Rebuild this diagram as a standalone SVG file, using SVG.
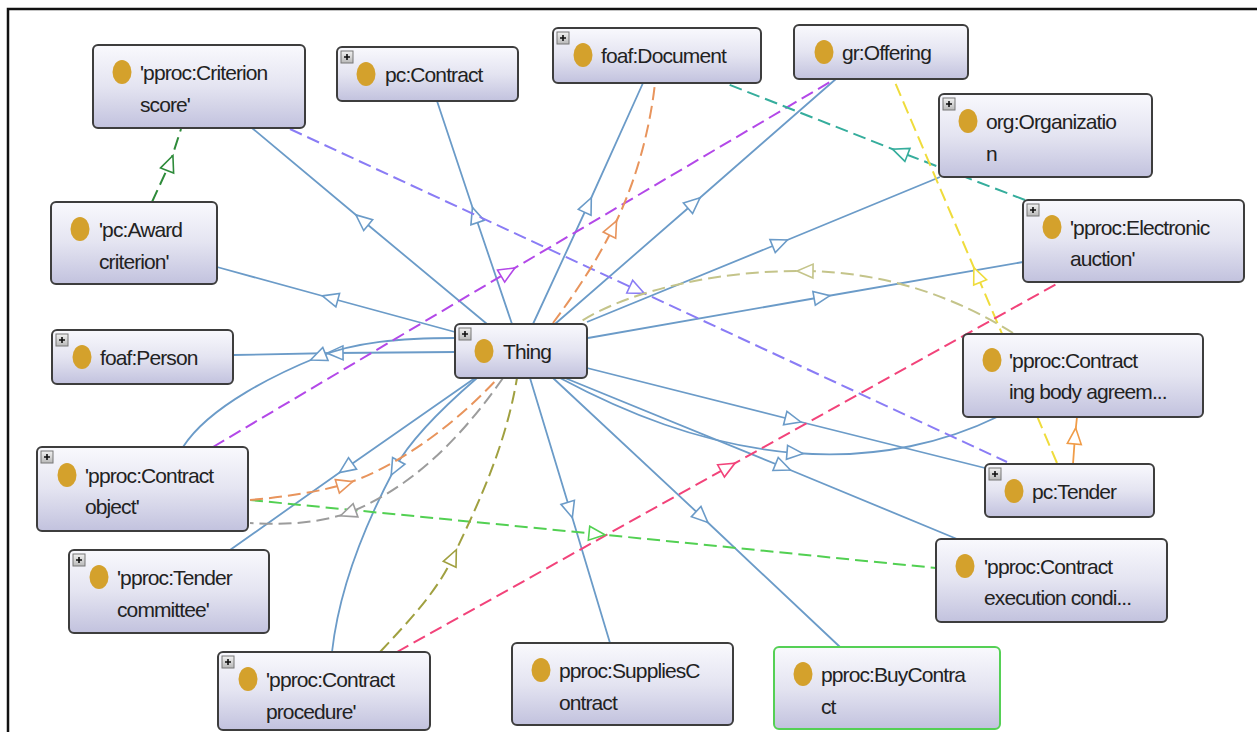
<svg xmlns="http://www.w3.org/2000/svg" width="1257" height="732" viewBox="0 0 1257 732">
  <defs>
    <linearGradient id="nodeFill" x1="0" y1="0" x2="0" y2="1">
      <stop offset="0" stop-color="#f9f9fd"/>
      <stop offset="0.5" stop-color="#e4e4f1"/>
      <stop offset="1" stop-color="#c2c2de"/>
    </linearGradient>
    <linearGradient id="plusFill" x1="0" y1="0" x2="0" y2="1">
      <stop offset="0" stop-color="#f2f2f2"/>
      <stop offset="1" stop-color="#b8b8b8"/>
    </linearGradient>
    <!-- open triangle heads, centred on the mid vertex of each connector -->
    <marker id="a-blue" markerUnits="userSpaceOnUse" markerWidth="20" markerHeight="16" refX="8" refY="7" orient="auto" overflow="visible"><path d="M0,0 L16,7 L0,14 Z" fill="#fff" stroke="#6b9bc8" stroke-width="1.6"/></marker>
    <marker id="a-purple" markerUnits="userSpaceOnUse" markerWidth="20" markerHeight="16" refX="8" refY="7" orient="auto" overflow="visible"><path d="M0,0 L16,7 L0,14 Z" fill="#fff" stroke="#b348e8" stroke-width="1.6"/></marker>
    <marker id="a-violet" markerUnits="userSpaceOnUse" markerWidth="20" markerHeight="16" refX="8" refY="7" orient="auto" overflow="visible"><path d="M0,0 L16,7 L0,14 Z" fill="#fff" stroke="#8a7cf5" stroke-width="1.6"/></marker>
    <marker id="a-orange" markerUnits="userSpaceOnUse" markerWidth="20" markerHeight="16" refX="8" refY="7" orient="auto" overflow="visible"><path d="M0,0 L16,7 L0,14 Z" fill="#fff" stroke="#e8945c" stroke-width="1.6"/></marker>
    <marker id="a-teal" markerUnits="userSpaceOnUse" markerWidth="20" markerHeight="16" refX="8" refY="7" orient="auto" overflow="visible"><path d="M0,0 L16,7 L0,14 Z" fill="#fff" stroke="#35ad9c" stroke-width="1.6"/></marker>
    <marker id="a-yellow" markerUnits="userSpaceOnUse" markerWidth="20" markerHeight="16" refX="8" refY="7" orient="auto" overflow="visible"><path d="M0,0 L16,7 L0,14 Z" fill="#fff" stroke="#efdc3c" stroke-width="1.6"/></marker>
    <marker id="a-khaki" markerUnits="userSpaceOnUse" markerWidth="20" markerHeight="16" refX="8" refY="7" orient="auto" overflow="visible"><path d="M0,0 L16,7 L0,14 Z" fill="#fff" stroke="#c4c48a" stroke-width="1.6"/></marker>
    <marker id="a-pink" markerUnits="userSpaceOnUse" markerWidth="20" markerHeight="16" refX="8" refY="7" orient="auto" overflow="visible"><path d="M0,0 L16,7 L0,14 Z" fill="#fff" stroke="#f2437a" stroke-width="1.6"/></marker>
    <marker id="a-green" markerUnits="userSpaceOnUse" markerWidth="20" markerHeight="16" refX="8" refY="7" orient="auto" overflow="visible"><path d="M0,0 L16,7 L0,14 Z" fill="#fff" stroke="#52d052" stroke-width="1.6"/></marker>
    <marker id="a-dkgreen" markerUnits="userSpaceOnUse" markerWidth="20" markerHeight="16" refX="8" refY="7" orient="auto" overflow="visible"><path d="M0,0 L16,7 L0,14 Z" fill="#fff" stroke="#2e8b3a" stroke-width="1.6"/></marker>
    <marker id="a-gray" markerUnits="userSpaceOnUse" markerWidth="20" markerHeight="16" refX="8" refY="7" orient="auto" overflow="visible"><path d="M0,0 L16,7 L0,14 Z" fill="#fff" stroke="#9c9c9c" stroke-width="1.6"/></marker>
    <marker id="a-olive" markerUnits="userSpaceOnUse" markerWidth="20" markerHeight="16" refX="8" refY="7" orient="auto" overflow="visible"><path d="M0,0 L16,7 L0,14 Z" fill="#fff" stroke="#a0a040" stroke-width="1.6"/></marker>
    <marker id="a-amber" markerUnits="userSpaceOnUse" markerWidth="20" markerHeight="16" refX="8" refY="7" orient="auto" overflow="visible"><path d="M0,0 L16,7 L0,14 Z" fill="#fff" stroke="#f09c48" stroke-width="1.6"/></marker>
  </defs>
  <style>
    .frame { fill:none; stroke:#111; stroke-width:2.5; }
    .edge { fill:none; stroke-width:1.8; }
    .dash { stroke-dasharray:13 6; stroke-width:2; }
    .sub { stroke:#6b9bc8; marker-mid:url(#a-blue); }
    .box { fill:url(#nodeFill); stroke:#3d3d3d; stroke-width:2; }
    .box.sel { stroke:#55d055; }
    .dot { fill:#d4a12c; }
    .plus rect { fill:url(#plusFill); stroke:#777; stroke-width:1; }
    .plus path { stroke:#111; stroke-width:1.6; fill:none; }
    .label { font-family:"Liberation Sans", Arial, sans-serif; font-size:21px; fill:#222; letter-spacing:-0.9px; }
  </style>

  <rect width="1257" height="732" fill="#fff"/>
  <path class="frame" d="M8,732 V9 H1257"/>

  <g id="connectors">
    <!-- subclass links from Thing -->
    <path class="edge sub" d="M487,324 L362,220 L252,128"/>
    <path class="edge sub" d="M512,324 L475,215 L437,101"/>
    <path class="edge sub" d="M533,324 L588,205 L643,83"/>
    <path class="edge sub" d="M555,324 L694,203 L837,78"/>
    <path class="edge sub" d="M587,322 L780,243 L940,177"/>
    <path class="edge sub" d="M588,338 L822,297 L1023,262"/>
    <path class="edge sub" d="M455,332 L330,298 L217,267"/>
    <path class="edge sub" d="M455,352 L335,353 L233,355"/>
    <path class="edge sub" d="M455,338 C400,338 355,342 318,357 C281,372 210,405 183,447"/>
    <path class="edge sub" d="M475,378 L346,468 L230,550"/>
    <path class="edge sub" d="M477,378 C440,410 410,440 395,468 C370,515 340,580 332,652"/>
    <path class="edge sub" d="M530,378 L570,510 L610,643"/>
    <path class="edge sub" d="M553,378 L702,517 L840,647"/>
    <path class="edge sub" d="M565,378 L783,467 L957,539"/>
    <path class="edge sub" d="M587,368 L793,420 L985,468"/>
    <path class="edge sub" d="M560,378 C620,410 700,445 795,453 C880,460 950,440 997,417"/>

    <!-- property links -->
    <path class="edge dash" stroke="#b348e8" marker-mid="url(#a-purple)" d="M213,447 L508,272 L835,79"/>
    <path class="edge dash" stroke="#8a7cf5" marker-mid="url(#a-violet)" d="M290,129 L637,290 L1007,462"/>
    <path class="edge dash" stroke="#e8945c" marker-mid="url(#a-orange)" d="M553,323 C570,300 595,265 613,228 C635,185 650,130 655,83"/>
    <path class="edge dash" stroke="#35ad9c" marker-mid="url(#a-teal)" d="M1025,200 L900,152 L725,83"/>
    <path class="edge dash" stroke="#efdc3c" marker-mid="url(#a-yellow)" d="M1057,463 L977,275 L894,80"/>
    <path class="edge" stroke="#f09c48" marker-mid="url(#a-amber)" d="M1073,464 L1075,436 L1077,417"/>
    <path class="edge dash" stroke="#c4c48a" marker-mid="url(#a-khaki)" d="M1013,333 C960,300 890,272 805,271 C720,270 630,290 580,322"/>
    <path class="edge dash" stroke="#f2437a" marker-mid="url(#a-pink)" d="M397,652 L728,467 L1060,282"/>
    <path class="edge dash" stroke="#52d052" marker-mid="url(#a-green)" d="M250,500 L597,534 L936,568"/>
    <path class="edge dash" stroke="#2e8b3a" marker-mid="url(#a-dkgreen)" d="M152,202 L170,163 L181,129"/>
    <path class="edge dash" stroke="#e8945c" marker-mid="url(#a-orange)" d="M250,500 C285,497 318,492 345,484 C390,470 450,430 498,378"/>
    <path class="edge dash" stroke="#9c9c9c" marker-mid="url(#a-gray)" d="M503,378 C470,425 420,485 348,513 C315,524 280,525 250,523"/>
    <path class="edge dash" stroke="#a0a040" marker-mid="url(#a-olive)" d="M380,652 C410,620 438,590 453,557 C475,510 505,450 517,378"/>
  </g>

  <g id="n-criterion-score">
    <rect class="box" x="93" y="45" width="212" height="83" rx="5"/>
    <ellipse class="dot" cx="122" cy="72" rx="9.5" ry="12"/>
    <text class="label" x="140" y="80">'pproc:Criterion</text>
    <text class="label" x="140" y="112">score'</text>
  </g>
  <g id="n-pc-contract">
    <rect class="box" x="337" y="47" width="181" height="54" rx="5"/>
    <g class="plus"><rect x="341" y="51" width="12" height="12"/><path d="M344,57h6M347,54v6"/></g>
    <ellipse class="dot" cx="366" cy="74" rx="9.5" ry="12"/>
    <text class="label" x="385" y="82">pc:Contract</text>
  </g>
  <g id="n-foaf-document">
    <rect class="box" x="553" y="28" width="208" height="55" rx="5"/>
    <g class="plus"><rect x="557" y="32" width="12" height="12"/><path d="M560,38h6M563,35v6"/></g>
    <ellipse class="dot" cx="583" cy="55" rx="9.5" ry="12"/>
    <text class="label" x="601" y="63">foaf:Document</text>
  </g>
  <g id="n-gr-offering">
    <rect class="box" x="794" y="25" width="174" height="54" rx="5"/>
    <ellipse class="dot" cx="824" cy="52" rx="9.5" ry="12"/>
    <text class="label" x="842" y="60">gr:Offering</text>
  </g>
  <g id="n-org-organization">
    <rect class="box" x="939" y="94" width="213" height="83" rx="5"/>
    <g class="plus"><rect x="943" y="98" width="12" height="12"/><path d="M946,104h6M949,101v6"/></g>
    <ellipse class="dot" cx="968" cy="121" rx="9.5" ry="12"/>
    <text class="label" x="986" y="129">org:Organizatio</text>
    <text class="label" x="986" y="161">n</text>
  </g>
  <g id="n-electronic-auction">
    <rect class="box" x="1023" y="200" width="221" height="82" rx="5"/>
    <g class="plus"><rect x="1027" y="204" width="12" height="12"/><path d="M1030,210h6M1033,207v6"/></g>
    <ellipse class="dot" cx="1052" cy="227" rx="9.5" ry="12"/>
    <text class="label" x="1070" y="235">'pproc:Electronic</text>
    <text class="label" x="1070" y="266">auction'</text>
  </g>
  <g id="n-award-criterion">
    <rect class="box" x="51" y="202" width="166" height="82" rx="5"/>
    <ellipse class="dot" cx="80" cy="229" rx="9.5" ry="12"/>
    <text class="label" x="99" y="237">'pc:Award</text>
    <text class="label" x="99" y="269">criterion'</text>
  </g>
  <g id="n-foaf-person">
    <rect class="box" x="52" y="330" width="181" height="54" rx="5"/>
    <g class="plus"><rect x="56" y="334" width="12" height="12"/><path d="M59,340h6M62,337v6"/></g>
    <ellipse class="dot" cx="82" cy="357" rx="9.5" ry="12"/>
    <text class="label" x="100" y="365">foaf:Person</text>
  </g>
  <g id="n-thing">
    <rect class="box" x="455" y="324" width="132" height="54" rx="5"/>
    <g class="plus"><rect x="459" y="328" width="12" height="12"/><path d="M462,334h6M465,331v6"/></g>
    <ellipse class="dot" cx="484" cy="351" rx="9.5" ry="12"/>
    <text class="label" x="503" y="359">Thing</text>
  </g>
  <g id="n-contracting-body">
    <rect class="box" x="963" y="334" width="240" height="83" rx="5"/>
    <ellipse class="dot" cx="992" cy="360" rx="9.5" ry="12"/>
    <text class="label" x="1009" y="368">'pproc:Contract</text>
    <text class="label" x="1009" y="399">ing body agreem...</text>
  </g>
  <g id="n-pc-tender">
    <rect class="box" x="985" y="464" width="169" height="53" rx="5"/>
    <g class="plus"><rect x="989" y="468" width="12" height="12"/><path d="M992,474h6M995,471v6"/></g>
    <ellipse class="dot" cx="1014" cy="491" rx="9.5" ry="12"/>
    <text class="label" x="1032" y="499">pc:Tender</text>
  </g>
  <g id="n-contract-object">
    <rect class="box" x="37" y="447" width="211" height="84" rx="5"/>
    <g class="plus"><rect x="41" y="451" width="12" height="12"/><path d="M44,457h6M47,454v6"/></g>
    <ellipse class="dot" cx="67" cy="475" rx="9.5" ry="12"/>
    <text class="label" x="85" y="483">'pproc:Contract</text>
    <text class="label" x="85" y="514">object'</text>
  </g>
  <g id="n-tender-committee">
    <rect class="box" x="69" y="550" width="200" height="83" rx="5"/>
    <g class="plus"><rect x="73" y="554" width="12" height="12"/><path d="M76,560h6M79,557v6"/></g>
    <ellipse class="dot" cx="99" cy="577" rx="9.5" ry="12"/>
    <text class="label" x="117" y="585">'pproc:Tender</text>
    <text class="label" x="117" y="617">committee'</text>
  </g>
  <g id="n-contract-procedure">
    <rect class="box" x="218" y="652" width="212" height="78" rx="5"/>
    <g class="plus"><rect x="222" y="656" width="12" height="12"/><path d="M225,662h6M228,659v6"/></g>
    <ellipse class="dot" cx="248" cy="679" rx="9.5" ry="12"/>
    <text class="label" x="266" y="687">'pproc:Contract</text>
    <text class="label" x="266" y="719">procedure'</text>
  </g>
  <g id="n-supplies-contract">
    <rect class="box" x="512" y="643" width="221" height="82" rx="5"/>
    <ellipse class="dot" cx="541" cy="670" rx="9.5" ry="12"/>
    <text class="label" x="559" y="678">pproc:SuppliesC</text>
    <text class="label" x="559" y="710">ontract</text>
  </g>
  <g id="n-buy-contract">
    <rect class="box sel" x="774" y="647" width="226" height="82" rx="5"/>
    <ellipse class="dot" cx="803" cy="674" rx="9.5" ry="12"/>
    <text class="label" x="821" y="682">pproc:BuyContra</text>
    <text class="label" x="821" y="714">ct</text>
  </g>
  <g id="n-execution-condition">
    <rect class="box" x="936" y="539" width="231" height="83" rx="5"/>
    <ellipse class="dot" cx="965" cy="566" rx="9.5" ry="12"/>
    <text class="label" x="984" y="574">'pproc:Contract</text>
    <text class="label" x="984" y="605">execution condi...</text>
  </g>
</svg>
